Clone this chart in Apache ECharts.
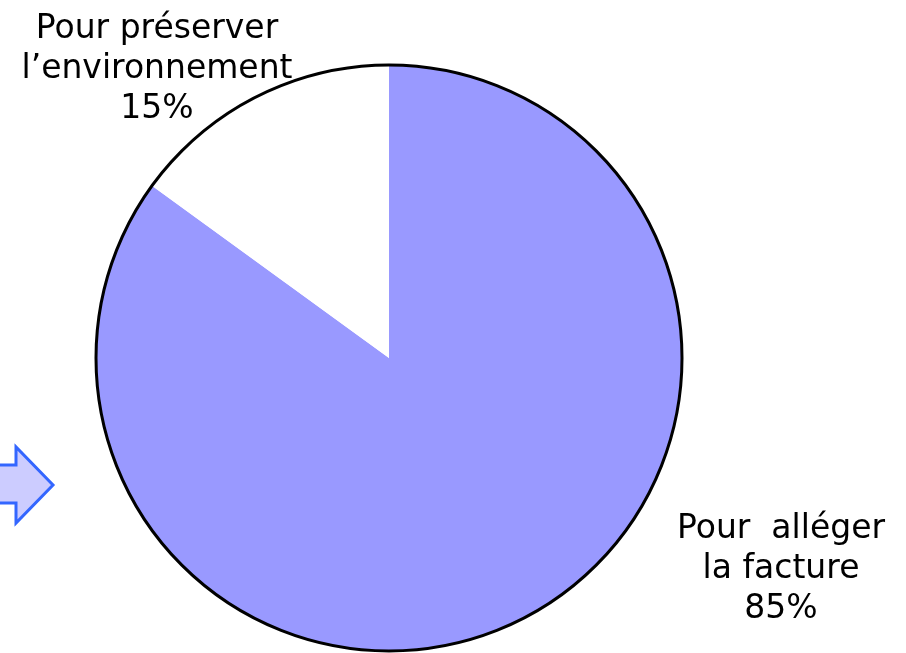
<!DOCTYPE html>
<html>
<head>
<meta charset="utf-8">
<script src="https://cdn.jsdelivr.net/npm/echarts@6/dist/echarts.min.js"></script>
<style>
  html, body { margin: 0; padding: 0; background: #fff; }
  #chart { width: 906px; height: 653px; }
</style>
</head>
<body>
<div id="chart"></div>
<script>
const labels = ['Pour  alléger\nla facture', 'Pour préserver\nl’environnement']
const values = [85, 15]
const colors = ['#9999FF', '#FFFFFF']
// label anchor (center of the text block) per slice
const labelPos = [[781, 569], [157, 69]]

const chart = echarts.init(document.getElementById('chart'))

chart.setOption({
  animation: false,
  graphic: [
    {
      type: 'polygon',
      shape: {
        points: [[-10, 465], [16, 465], [16, 447], [53, 485], [16, 523], [16, 503], [-10, 503]]
      },
      style: {
        fill: '#CCCCFF',
        stroke: '#3366FF',
        lineWidth: 3,
        lineJoin: 'miter'
      }
    }
  ],
  series: [
    {
      type: 'pie',
      center: [389, 358],
      radius: [0, 293],
      startAngle: 90,
      clockwise: true,
      silent: true,
      data: labels.map((name, i) => ({
        name: name,
        value: values[i],
        itemStyle: { color: colors[i] }
      })),
      itemStyle: {
        borderWidth: 0
      },
      label: {
        show: true,
        position: 'outside',
        formatter: p => p.name + '\n' + p.value + '%',
        fontFamily: 'DejaVu Sans',
        fontSize: 33,
        lineHeight: 40,
        color: '#000',
        align: 'center',
        overflow: 'none',
        width: 400
      },
      labelLine: { show: false },
      labelLayout: params => ({
        x: labelPos[params.dataIndex][0],
        y: labelPos[params.dataIndex][1],
        align: 'center',
        verticalAlign: 'middle',
        fontSize: 33
      })
    },
    {
      type: 'pie',
      center: [389, 358],
      radius: [0, 293],
      silent: true,
      z: 3,
      label: { show: false },
      labelLine: { show: false },
      data: [{ value: 1, itemStyle: { color: 'rgba(0,0,0,0)', borderColor: '#000', borderWidth: 3 } }]
    }
  ]
})
</script>
</body>
</html>
